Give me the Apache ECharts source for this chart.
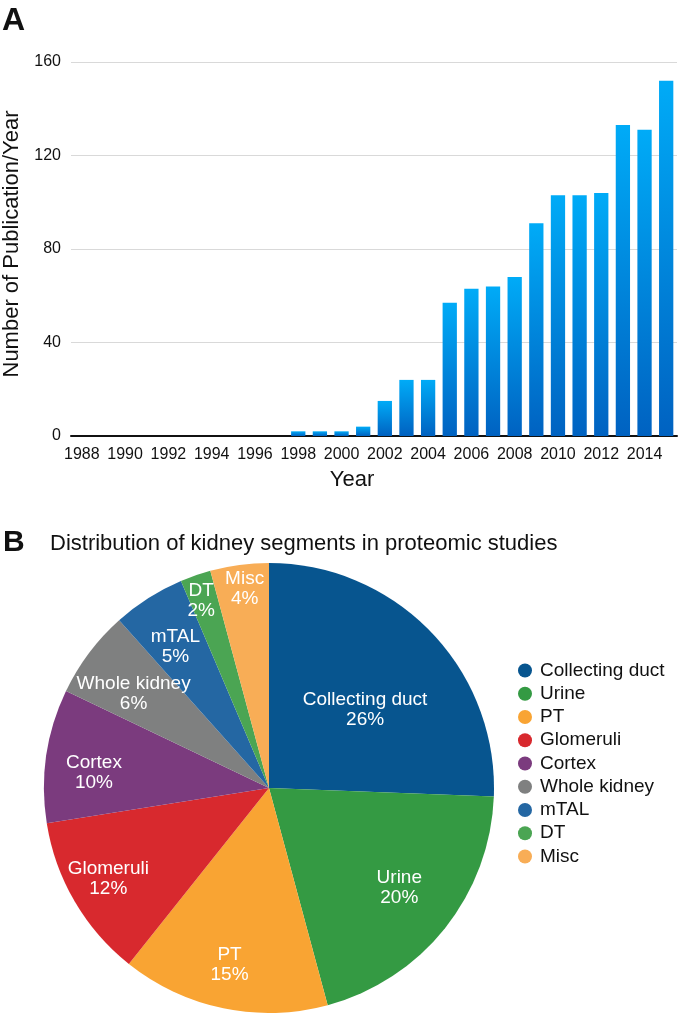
<!DOCTYPE html>
<html>
<head>
<meta charset="utf-8">
<script src="https://cdn.jsdelivr.net/npm/echarts@6/dist/echarts.min.js"></script>
<style>
  html, body { margin: 0; padding: 0; background: #ffffff; }
  #chart { width: 678px; height: 1013px; }
</style>
</head>
<body>
<div id="chart"></div>
<script>
// ---- Data (panel A) ----
const years = ['1988','1989','1990','1991','1992','1993','1994','1995','1996','1997',
               '1998','1999','2000','2001','2002','2003','2004','2005','2006','2007',
               '2008','2009','2010','2011','2012','2013','2014','2015'];
const publications = [0,0,0,0,0,0,0,0,0,0,
                      2,2,2,4,15,24,24,57,63,64,
                      68,91,103,103,104,133,131,152];
const yTicks = [0, 40, 80, 120, 160];

// ---- Data (panel B) ----
const segments = ['Collecting duct','Urine','PT','Glomeruli','Cortex','Whole kidney','mTAL','DT','Misc'];
const shares = [25.6, 20.2, 14.9, 11.8, 9.6, 6.3, 5.2, 2.2, 4.2];

// ---- Styles ----
const segmentColors = ['#07558f','#349a43','#f9a433','#d8292e','#7b3b7e','#7f8080','#2467a3','#4ba553','#f8ad56'];
const labelRadiusFactor = [0.538, 0.715, 0.792, 0.807, 0.768, 0.719, 0.741, 0.873, 0.879];
const labelAngleShiftDeg = [4.8, -1.2, 0.9, 0.8, -3.2, -2.2, -1.1, -0.8, 0.6];
const PIE_R = 225;
const FONT = '"Liberation Sans", Arial, Helvetica, sans-serif';

const chart = echarts.init(document.getElementById('chart'), null, { renderer: 'canvas' });

const totalShare = shares.reduce((a, b) => a + b, 0);

const option = {
  backgroundColor: '#ffffff',
  textStyle: { fontFamily: FONT },
  animation: false,
  title: [
    { text: 'A', left: 2, top: 5, padding: 0,
      textStyle: { fontFamily: FONT, fontSize: 32, fontWeight: 'bold', color: '#111' } },
    { text: 'B', left: 3, top: 528, padding: 0,
      textStyle: { fontFamily: FONT, fontSize: 30, fontWeight: 'bold', color: '#111' } },
    { text: 'Distribution of kidney segments in proteomic studies', left: 50, top: 533, padding: 0,
      textStyle: { fontFamily: FONT, fontSize: 22, fontWeight: 'normal', color: '#111' } }
  ],
  grid: { left: 71, top: 62, right: 1, height: 374, containLabel: false, outerBoundsMode: 'none' },
  xAxis: {
    type: 'category',
    data: years,
    name: 'Year',
    nameLocation: 'middle',
    nameGap: 33,
    nameTextStyle: { fontFamily: FONT, fontSize: 22, color: '#111', padding: [0, 44, 0, 0] },
    axisLine: { show: true, lineStyle: { color: '#111', width: 2 } },
    axisTick: { show: false },
    axisLabel: { interval: 1, margin: 11, fontFamily: FONT, fontSize: 16, color: '#111' }
  },
  yAxis: {
    type: 'value',
    min: yTicks[0],
    max: yTicks[yTicks.length - 1],
    interval: yTicks[1] - yTicks[0],
    name: 'Number of Publication/Year',
    nameLocation: 'middle',
    nameRotate: 90,
    nameGap: 46.5,
    nameTextStyle: { fontFamily: FONT, fontSize: 22, color: '#111', padding: [0, 0, 0, 10] },
    axisLine: { show: false },
    axisTick: { show: false },
    axisLabel: { margin: 10, fontFamily: FONT, fontSize: 16, color: '#111' },
    splitLine: { show: true, lineStyle: { color: '#d9d9d9', width: 1 } }
  },
  legend: {
    orient: 'vertical',
    left: 518,
    top: 661,
    padding: 0,
    itemGap: 4.25,
    itemWidth: 20,
    itemHeight: 14,
    icon: 'circle',
    data: segments,
    textStyle: { fontFamily: FONT, fontSize: 19, lineHeight: 19, color: '#111' }
  },
  series: [
    {
      type: 'bar',
      data: publications,
      barWidth: '66%',
      itemStyle: {
        color: new echarts.graphic.LinearGradient(0, 0, 0, 1, [
          { offset: 0, color: '#00abf7' },
          { offset: 1, color: '#0062c1' }
        ])
      }
    },
    {
      type: 'pie',
      center: [269, 788],
      radius: [0, PIE_R],
      startAngle: 90,
      clockwise: true,
      avoidLabelOverlap: false,
      percentPrecision: 0,
      data: segments.map((name, i) => ({ name: name, value: shares[i], itemStyle: { color: segmentColors[i] } })),
      itemStyle: { borderWidth: 0 },
      label: {
        show: true,
        position: 'inside',
        formatter: '{b}\n{d}%',
        fontFamily: FONT,
        fontSize: 19,
        lineHeight: 20,
        color: '#ffffff',
        align: 'center'
      },
      labelLine: { show: false },
      emphasis: { disabled: true },
      labelLayout: function (p) {
        const i = p.dataIndex;
        let cum = 0;
        for (let j = 0; j < i; j++) cum += shares[j];
        const mid = (cum + shares[i] / 2) / totalShare * Math.PI * 2;
        const target = mid + labelAngleShiftDeg[i] * Math.PI / 180;
        const rT = labelRadiusFactor[i] * PIE_R;
        const rD = 0.5 * PIE_R;
        return {
          dx: rT * Math.sin(target) - rD * Math.sin(mid),
          dy: -rT * Math.cos(target) + rD * Math.cos(mid)
        };
      }
    }
  ]
};

chart.setOption(option);
</script>
</body>
</html>
